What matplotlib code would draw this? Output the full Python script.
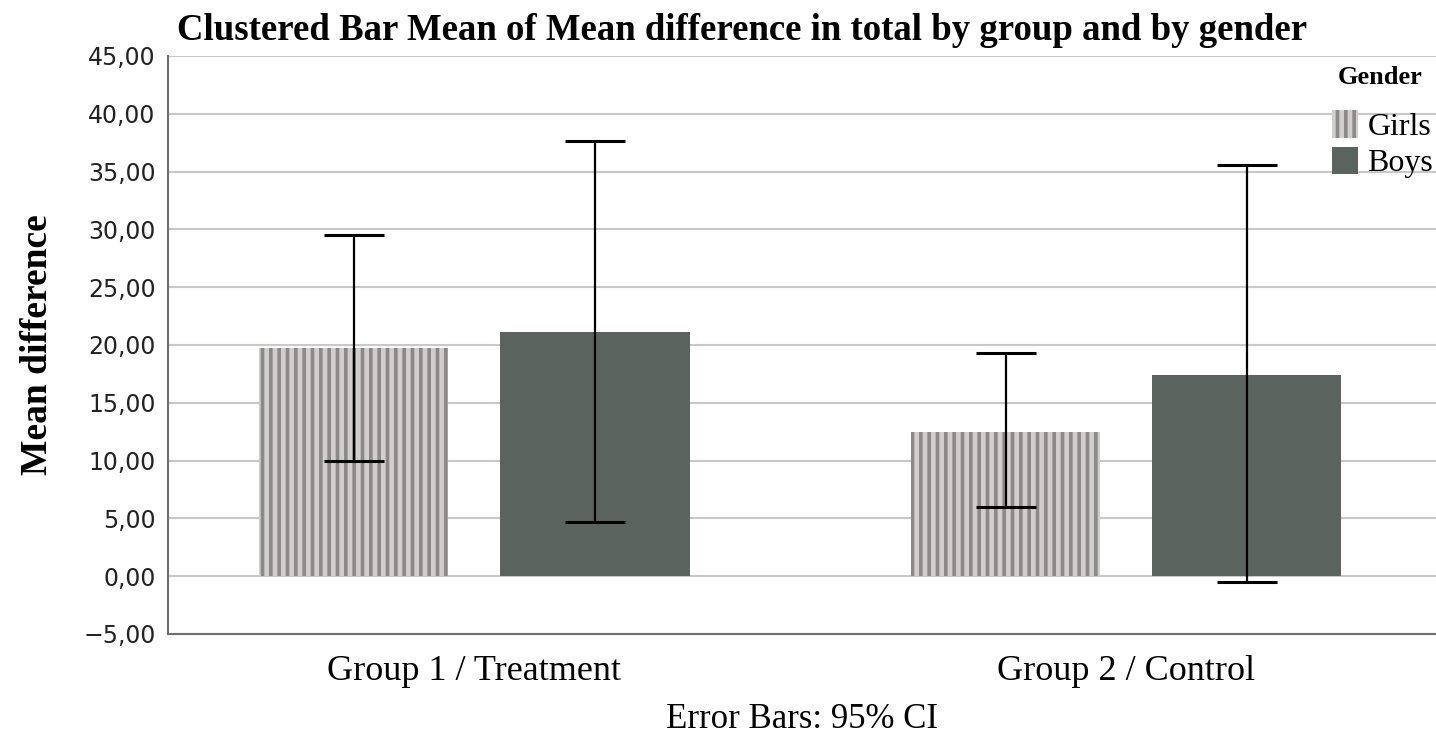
import numpy as np
import matplotlib.pyplot as plt
from matplotlib.patches import Patch
from matplotlib.ticker import FuncFormatter, MultipleLocator

# data
groups = ['Group 1 / Treatment', 'Group 2 / Control']
genders = ['Girls', 'Boys']
girls_mean = [19.7, 12.5]
girls_lo = [9.95, 6.0]
girls_hi = [29.5, 19.3]
boys_mean = [21.1, 17.4]
boys_lo = [4.7, -0.5]
boys_hi = [37.6, 35.6]

plt.rcParams['hatch.linewidth'] = 2.6

fig = plt.figure(figsize=(14.36, 7.36), dpi=100)
ax = fig.add_axes([0.117, 0.1386, 0.883, 0.7854])

x = np.arange(len(groups))
w = 0.29
off = 0.185

girls_c = '#d2cece'
stripe_c = '#8e8989'
boys_c = '#5a635d'

ax.bar(x - off, girls_mean, w, color=girls_c, hatch='||', edgecolor=stripe_c, linewidth=0, zorder=2)
ax.bar(x + off, boys_mean, w, color=boys_c, edgecolor='none', zorder=2)

gm = np.array(girls_mean)
bm = np.array(boys_mean)
ax.errorbar(x - off, gm, yerr=[gm - np.array(girls_lo), np.array(girls_hi) - gm],
            fmt='none', ecolor='black', elinewidth=1.6, capsize=21.5, capthick=2.2, zorder=3)
ax.errorbar(x + off, bm, yerr=[bm - np.array(boys_lo), np.array(boys_hi) - bm],
            fmt='none', ecolor='black', elinewidth=1.6, capsize=21.5, capthick=2.2, zorder=3)

ax.set_xlim(-0.47, 1.475)
ax.set_ylim(-5, 45)
ax.yaxis.set_major_locator(MultipleLocator(5))
ax.yaxis.set_major_formatter(FuncFormatter(lambda v, p: f'{v:.2f}'.replace('.', ',').replace('-', '\u2212')))
ax.grid(axis='y', color='#c8c8c8', linewidth=1.5, zorder=0)
ax.set_axisbelow(True)

for s in ['top', 'right']:
    ax.spines[s].set_visible(False)
for s in ['left', 'bottom']:
    ax.spines[s].set_color('#6e6e6e')
    ax.spines[s].set_linewidth(1.5)

ax.tick_params(axis='y', length=0, pad=9, labelsize=17, labelcolor='#222222')
ax.tick_params(axis='x', length=0, pad=15)
ax.set_xticks(x)
ax.set_xticklabels(groups, fontfamily='Liberation Serif', fontsize=26)

ax.set_ylabel('Mean difference', fontfamily='Liberation Serif', fontweight='bold', fontsize=27, labelpad=20)
ax.set_xlabel('Error Bars: 95% CI', fontfamily='Liberation Serif', fontsize=25, labelpad=11)
fig.text(0.517, 0.958, 'Clustered Bar Mean of Mean difference in total by group and by gender',
         fontfamily='Liberation Serif', fontweight='bold', fontsize=26.5, ha='center', va='center')

# legend
fig.text(1380 / 1436, 1 - 78 / 736, 'Gender', fontfamily='Liberation Serif', fontweight='bold',
         fontsize=19, ha='center', va='center')
handles = [Patch(facecolor=girls_c, hatch='||', edgecolor=stripe_c, linewidth=0),
           Patch(facecolor=boys_c, edgecolor='none')]
leg = fig.legend(handles, genders, loc='upper left', bbox_to_anchor=(1332 / 1436, 1 - 110 / 736),
                 frameon=False, handlelength=0.8, handleheight=0.95,
                 handletextpad=0.31, labelspacing=0.15, borderpad=0, borderaxespad=0,
                 prop={'family': 'Liberation Serif', 'size': 23})

fig.savefig('out.png', dpi=100)
